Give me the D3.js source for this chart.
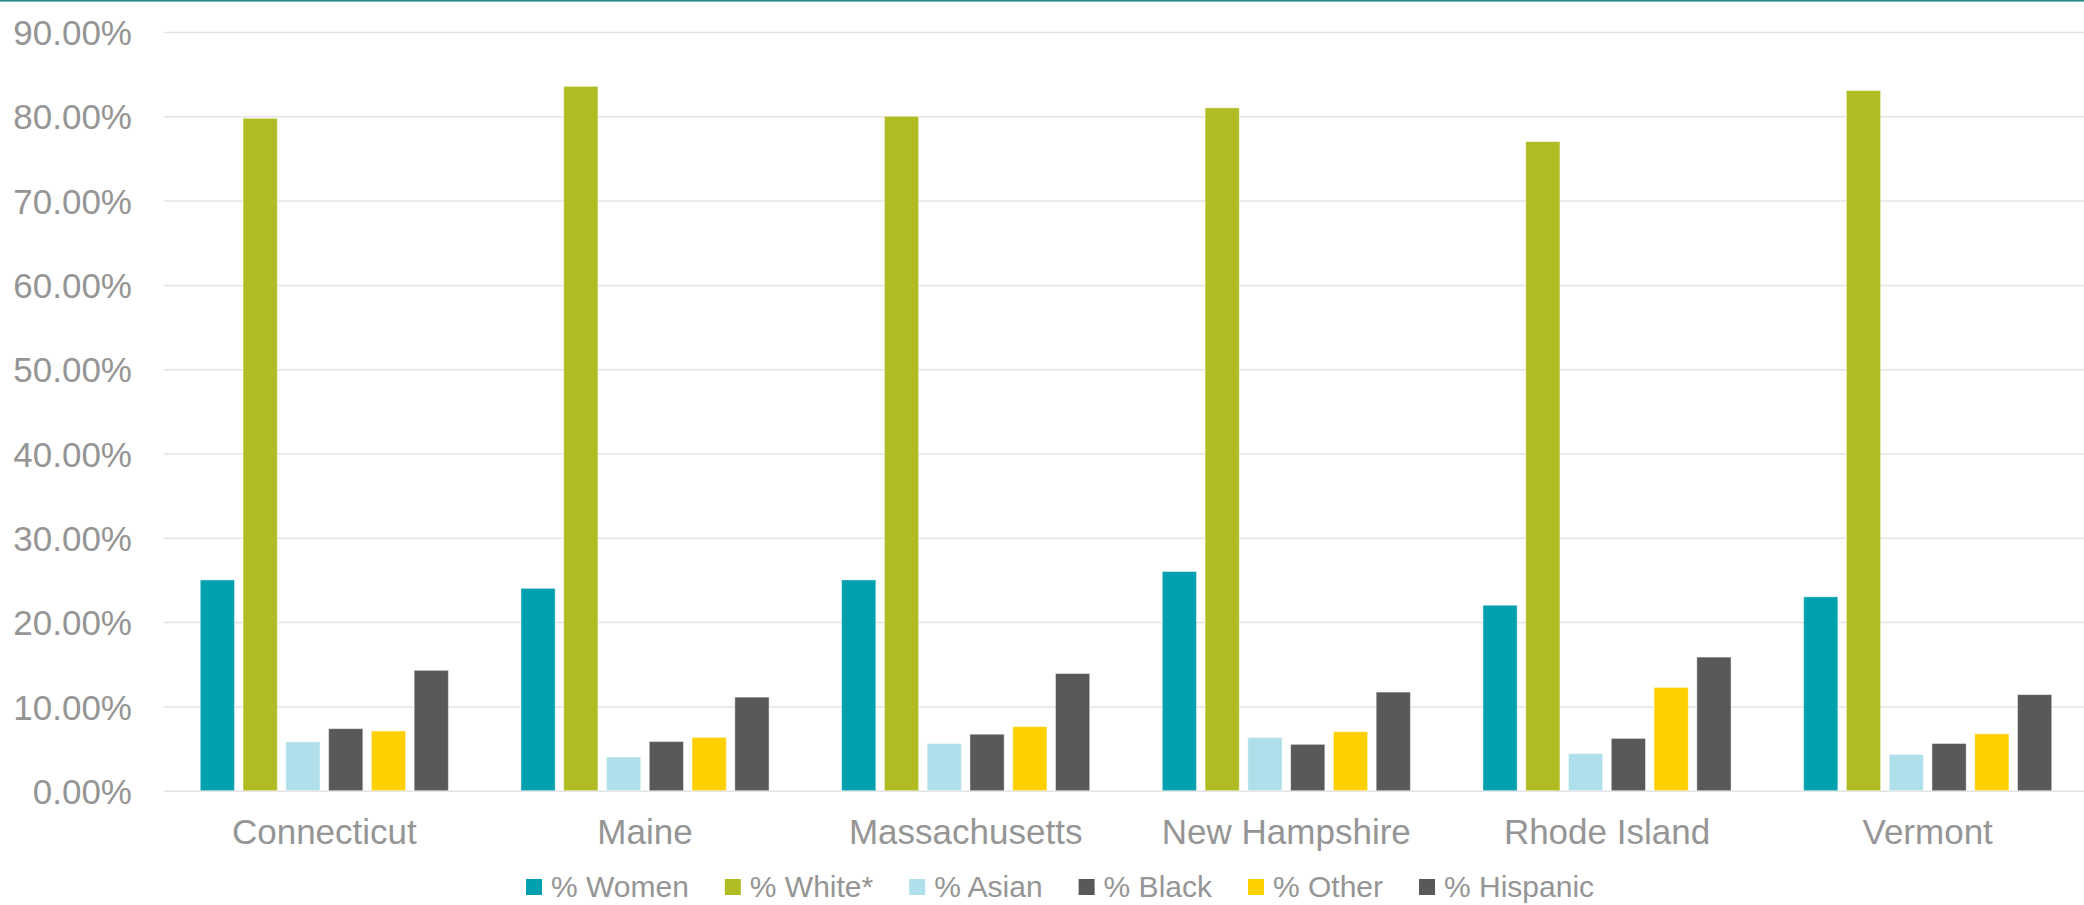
<!DOCTYPE html>
<html>
<head>
<meta charset="utf-8">
<script src="https://cdn.jsdelivr.net/npm/d3@7"></script>
<style>
  html, body { margin: 0; padding: 0; background: #fff; }
  svg { display: block; font-family: "Liberation Sans", Arial, sans-serif; }
</style>
</head>
<body>
<svg id="chart" width="2084" height="905"></svg>
<script>
const categories = ["Connecticut", "Maine", "Massachusetts", "New Hampshire", "Rhode Island", "Vermont"];
const seriesNames = ["% Women", "% White*", "% Asian", "% Black", "% Other", "% Hispanic"];
const seriesColors = ["#00a0ae", "#b0bc22", "#afdfeb", "#595959", "#ffd000", "#595959"];
const women    = [0.250, 0.240, 0.250, 0.260, 0.220, 0.230];
const white    = [0.7976, 0.8355, 0.800, 0.810, 0.770, 0.8306];
const asian    = [0.0578, 0.040, 0.056, 0.063, 0.044, 0.043];
const black    = [0.0736, 0.0583, 0.067, 0.055, 0.062, 0.056];
const other    = [0.0708, 0.0632, 0.076, 0.070, 0.1225, 0.0675];
const hispanic = [0.1428, 0.111, 0.139, 0.117, 0.1585, 0.114];
const yTicks = [0, 0.1, 0.2, 0.3, 0.4, 0.5, 0.6, 0.7, 0.8, 0.9];

const seriesValues = [women, white, asian, black, other, hispanic];

(function draw() {
  const svg = d3.select("#chart");
  const W = 2084;
  const plotLeft = 164, plotRight = 2088, plotTop = 32, plotBottom = 790.7;
  const gray = "#959595";

  // top accent line
  svg.append("rect").attr("x", 0).attr("y", 0).attr("width", W).attr("height", 1.6).attr("fill", "#23898a");

  const x0 = d3.scaleBand().domain(categories).range([plotLeft, plotRight]).padding(0);
  const bw = x0.bandwidth();
  const x1 = d3.scaleBand().domain(seriesNames).range([32, bw - 32]).paddingInner(0.2).paddingOuter(0.1);
  const y = d3.scaleLinear().domain([0, 0.9]).range([plotBottom, plotTop]);

  // y axis with gridlines
  const yAxis = d3.axisLeft(y).tickValues(yTicks).tickFormat(d3.format(".2%"))
    .tickSize(-(W - plotLeft)).tickPadding(32);
  const gy = svg.append("g").attr("transform", `translate(${plotLeft},0)`).call(yAxis);
  gy.select(".domain").remove();
  gy.selectAll(".tick line").attr("stroke", "#e3e3e3").attr("stroke-width", 1.5);
  gy.selectAll(".tick text").attr("fill", gray).attr("font-size", 35).attr("dy", "0.36em")
    .attr("font-family", "'Liberation Sans', Arial, sans-serif");

  // bars
  const groups = svg.append("g").selectAll("g").data(categories).join("g")
    .attr("transform", d => `translate(${x0(d)},0)`);
  groups.selectAll("rect")
    .data((c, ci) => seriesNames.map((s, si) => ({ s, si, v: seriesValues[si][ci] })))
    .join("rect")
    .attr("x", d => x1(d.s))
    .attr("width", x1.bandwidth())
    .attr("y", d => y(d.v))
    .attr("height", d => plotBottom - y(d.v))
    .attr("fill", d => seriesColors[d.si])
    .attr("stroke", "#ffffff").attr("stroke-opacity", 0.45).attr("stroke-width", 1);

  // x axis labels
  const xAxis = d3.axisBottom(x0).tickSize(0).tickPadding(28);
  const gx = svg.append("g").attr("transform", `translate(0,${plotBottom})`).call(xAxis);
  gx.select(".domain").remove();
  gx.selectAll(".tick text").attr("fill", gray).attr("font-size", 35)
    .attr("font-family", "'Liberation Sans', Arial, sans-serif");

  // legend
  const legend = svg.append("g");
  let lx = 526;
  seriesNames.forEach((name, i) => {
    legend.append("rect").attr("x", lx).attr("y", 879).attr("width", 16).attr("height", 16)
      .attr("fill", seriesColors[i]);
    const t = legend.append("text").attr("x", lx + 25).attr("y", 897)
      .attr("fill", gray).attr("font-size", 30).text(name);
    lx += 25 + t.node().getComputedTextLength() + 36;
  });
})();
</script>
</body>
</html>
